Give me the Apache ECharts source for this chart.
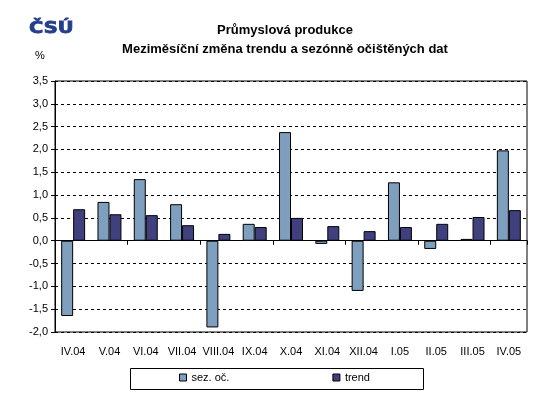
<!DOCTYPE html>
<html>
<head>
<meta charset="utf-8">
<script src="https://cdn.jsdelivr.net/npm/echarts@6/dist/echarts.min.js"></script>
<style>
  html, body { margin: 0; padding: 0; background: #fff; }
  #chart { width: 555px; height: 399px; }
</style>
</head>
<body>
<div id="chart"></div>
<script>
// data
const months = ['IV.04', 'V.04', 'VI.04', 'VII.04', 'VIII.04', 'IX.04', 'X.04', 'XI.04', 'XII.04', 'I.05', 'II.05', 'III.05', 'IV.05'];
const sezOc = [-1.65, 0.85, 1.35, 0.80, -1.90, 0.37, 2.38, -0.07, -1.10, 1.28, -0.18, 0.04, 1.98];
const trend = [0.69, 0.58, 0.56, 0.34, 0.15, 0.30, 0.50, 0.32, 0.21, 0.30, 0.37, 0.52, 0.67];
const seriesNames = ['sez. oč.', 'trend'];

const font = 'Arial, "Liberation Sans", sans-serif';
const fmt = v => v.toFixed(1).replace('.', ',');

let myChart = echarts.init(document.getElementById('chart'), null, { renderer: 'canvas' });
let option = {
    backgroundColor: '#fff',
    animation: false,
    textStyle: { fontFamily: font },
    title: {
        text: 'Průmyslová produkce\nMeziměsíční změna trendu a sezónně očištěných dat',
        left: 280,
        top: 16,
        textAlign: 'center',
        textStyle: { fontSize: 13, fontWeight: 'bold', color: '#000', lineHeight: 19, fontFamily: font }
    },
    graphic: [
        // logo
        {
            type: 'text', x: 29, y: 22, scaleX: 1.3,
            style: { text: 'ČSÚ', font: '900 15px "DejaVu Sans", sans-serif', fill: '#233f8c', stroke: '#233f8c', lineWidth: 0.8 }
        },
        {
            type: 'text', left: 35, top: 50,
            style: { text: '%', font: '11px ' + font, fill: '#000' }
        },
        // legend frame
        {
            type: 'rect', x: 130.5, y: 368.5,
            shape: { width: 293, height: 21 },
            style: { fill: 'none', stroke: '#000', lineWidth: 1 }
        }
    ],
    legend: {
        data: seriesNames,
        left: 179, top: 372,
        padding: 0,
        itemGap: 103,
        itemWidth: 7, itemHeight: 7,
        icon: 'rect',
        itemStyle: { borderColor: '#000', borderWidth: 1 },
        textStyle: { fontSize: 11, color: '#000' }
    },
    grid: {
        left: 55, right: 28, top: 81, bottom: 67,
        show: true, borderColor: '#000', borderWidth: 1, backgroundColor: '#fff'
    },
    xAxis: [
        {
            type: 'category', data: months,
            axisLine: { onZero: true, lineStyle: { color: '#000', width: 1 } },
            axisTick: { show: true, length: 4, lineStyle: { color: '#000' } },
            axisLabel: { show: false },
            splitLine: { show: false }
        },
        {
            type: 'category', data: months, position: 'bottom',
            axisLine: { show: false, onZero: false },
            axisTick: { show: false },
            axisLabel: { show: true, fontSize: 11, color: '#000', margin: 14, interval: 0 },
            splitLine: { show: false }
        }
    ],
    yAxis: {
        type: 'value', min: -2, max: 3.5, interval: 0.5,
        axisLine: { show: true, lineStyle: { color: '#000' } },
        axisTick: { show: true, length: 4, lineStyle: { color: '#000' } },
        axisLabel: { fontSize: 11, color: '#000', margin: 7, formatter: fmt },
        splitLine: { show: true, lineStyle: { color: '#000', type: [3, 3], width: 1 } }
    },
    series: [
        {
            name: seriesNames[0], type: 'bar', data: sezOc, xAxisIndex: 0,
            barGap: '0%', barCategoryGap: '34%',
            itemStyle: { color: '#7f9fbf', borderColor: '#000', borderWidth: 1 }
        },
        {
            name: seriesNames[1], type: 'bar', data: trend, xAxisIndex: 0,
            barGap: '0%', barCategoryGap: '34%',
            itemStyle: { color: '#40407f', borderColor: '#000', borderWidth: 1 }
        }
    ]
};
myChart.setOption(option);
</script>
</body>
</html>
